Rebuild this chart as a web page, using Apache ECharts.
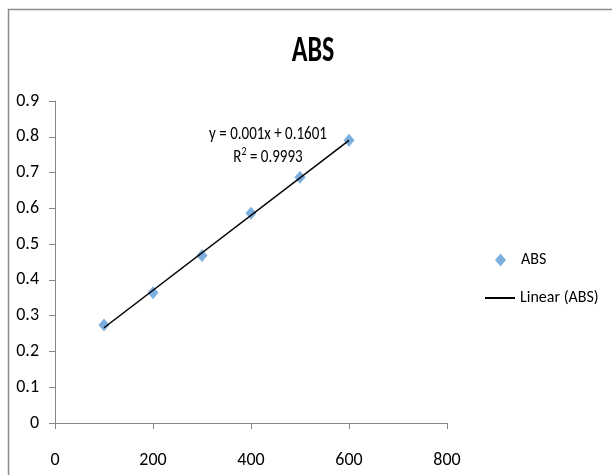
<!DOCTYPE html>
<html>
<head>
<meta charset="utf-8">
<script src="https://cdn.jsdelivr.net/npm/echarts@6/dist/echarts.min.js"></script>
<style>html,body{margin:0;padding:0;background:#fff;}#c{width:612px;height:475px;}</style>
</head>
<body>
<div id="c"></div>
<script>
var FONT = "'Liberation Sans Narrow', Carlito, 'Open Sans', sans-serif";
var concentrations = [100, 200, 300, 400, 500, 600];
var absValues = [0.274, 0.364, 0.468, 0.586, 0.687, 0.790];
var xTicks = [0, 200, 400, 600, 800];
var yTicks = [0, 0.1, 0.2, 0.3, 0.4, 0.5, 0.6, 0.7, 0.8, 0.9];
var titleText = 'ABS';
var equationText = 'y = 0.001x + 0.1601';
var r2Text = 'R{sup|2} = 0.9993';

// least-squares trendline from the data
var n = concentrations.length, sx = 0, sy = 0, sxx = 0, sxy = 0;
for (var i = 0; i < n; i++) { sx += concentrations[i]; sy += absValues[i]; sxx += concentrations[i]*concentrations[i]; sxy += concentrations[i]*absValues[i]; }
var slope = (n*sxy - sx*sy) / (n*sxx - sx*sx);
var intercept = (sy - slope*sx) / n;
var xMin = concentrations[0], xMax = concentrations[n-1];
var trend = [[xMin, slope*xMin + intercept], [xMax, slope*xMax + intercept]];
var points = concentrations.map(function (x, i) { return [x, absValues[i]]; });

var chart = echarts.init(document.getElementById('c'), null, {renderer: 'canvas'});
chart.setOption({
  animation: false,
  backgroundColor: '#fff',
  textStyle: {fontFamily: FONT},
  grid: {left: 55, right: 165, top: 101, bottom: 52, containLabel: false},
  xAxis: {
    type: 'value', min: xTicks[0], max: xTicks[xTicks.length-1], interval: 200,
    axisLine: {lineStyle: {color: '#868686', width: 1}},
    axisTick: {show: true, inside: false, length: 6, lineStyle: {color: '#868686'}},
    axisLabel: {color: '#000', fontSize: 18, margin: 28, fontFamily: FONT},
    splitLine: {show: false}
  },
  yAxis: {
    type: 'value', min: yTicks[0], max: yTicks[yTicks.length-1], interval: 0.1,
    axisLine: {show: true, lineStyle: {color: '#868686', width: 1}},
    axisTick: {show: true, inside: false, length: 6, lineStyle: {color: '#868686'}},
    axisLabel: {color: '#000', fontSize: 18, margin: 16, fontFamily: FONT,
      formatter: function (v) { return String(Math.round(v*10)/10); }},
    splitLine: {show: false}
  },
  legend: [
    {data: [{name: 'ABS', icon: 'diamond'}], orient: 'vertical', left: 495, top: 252, padding: 0, itemWidth: 11, itemHeight: 13,
     textStyle: {fontFamily: FONT, fontSize: 16, color: '#000', padding: [3,0,0,10]}},
    {data: [{name: 'Linear (ABS)', icon: 'path://M0,0L30,0L30,2L0,2Z'}], orient: 'vertical', left: 485, top: 290, padding: 0, itemWidth: 30, itemHeight: 14,
     textStyle: {fontFamily: FONT, fontSize: 16, color: '#000', padding: [4,0,0,0]}, itemStyle: {color: '#000'}}
  ],
  graphic: [
    {type: 'rect', shape: {x: 8.5, y: 9.5, width: 700, height: 600}, style: {fill: 'none', stroke: '#8c8c8c', lineWidth: 1.5}, silent: true, z: -1},
    {type: 'text', x: 313, y: 52, scaleY: 1.38, style: {text: titleText, textAlign: 'center', textVerticalAlign: 'middle', fontFamily: FONT, fontSize: 26, fontWeight: 'bold', fill: '#000'}},
    {type: 'text', x: 268, y: 134, scaleY: 1.25, style: {text: equationText, textAlign: 'center', textVerticalAlign: 'middle', fontFamily: FONT, fontSize: 15, fill: '#000'}},
    {type: 'text', x: 268, y: 157, scaleY: 1.25, style: {text: r2Text, textAlign: 'center', textVerticalAlign: 'middle', fontFamily: FONT, fontSize: 15, fill: '#000',
      rich: {sup: {fontSize: 10, verticalAlign: 'top', padding: [0,0,8,0], fontFamily: FONT}}}}
  ],
  series: [
    {name: 'Linear (ABS)', type: 'line', data: trend, symbol: 'none', lineStyle: {color: '#000', width: 1.5}, itemStyle: {color: '#000'}, z: 3},
    {name: 'ABS', type: 'scatter', data: points, symbol: 'diamond', symbolSize: [11, 13], itemStyle: {color: '#5B9BD5'}, z: 2}
  ]
});
</script>
</body>
</html>
